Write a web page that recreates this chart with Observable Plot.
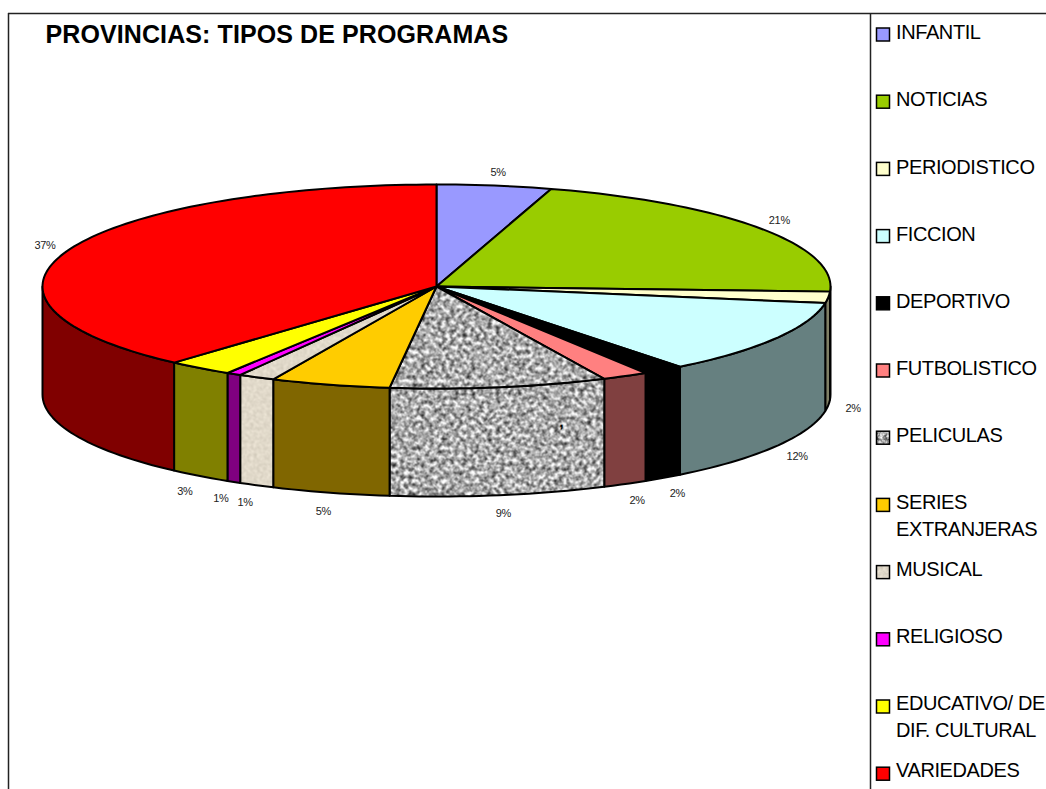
<!DOCTYPE html>
<html>
<head>
<meta charset="utf-8">
<script src="https://cdn.jsdelivr.net/npm/d3@7"></script>
<script src="https://cdn.jsdelivr.net/npm/@observablehq/plot@0.6"></script>
<style>
html,body{margin:0;padding:0;background:#fff;overflow:hidden}
</style>
</head>
<body>
<div id="chart"></div>
<script>
const categories = ["INFANTIL","NOTICIAS","PERIODISTICO","FICCION","DEPORTIVO","FUTBOLISTICO","PELICULAS","SERIES\nEXTRANJERAS","MUSICAL","RELIGIOSO","EDUCATIVO/ DE\nDIF. CULTURAL","VARIEDADES"];
const shares = [4.7,21.1,1.8,11.8,1.7,1.9,8.9,4.9,1.5,0.6,2.7,38.4];
const pctLabels = ["5%","21%","2%","12%","2%","2%","9%","5%","1%","1%","3%","37%"];
const topColors = ["#9999ff","#99cc00","#ffffcc","#ccffff","#000000","#ff8080","url(#granite)","#ffcc00","url(#sand)","#ff00ff","#ffff00","#ff0000"];
const sideColors = ["#4d4d80","#4d6600","#808066","#668080","#000000","#804040","url(#granite)","#806600","url(#sand)","#800080","#808000","#800000"];
const title = "PROVINCIAS: TIPOS DE PROGRAMAS";

// pie geometry in picture units
const W = 1046, H = 789;
const cx = 436, cy = 286, rx = 394, ry = 102, depth = 108;
const rad = d => d * Math.PI / 180;
const ex = a => cx + rx * Math.sin(rad(a));
const ey = a => cy - ry * Math.cos(rad(a));

const total = d3.sum(shares);
let acc = 0;
const slices = categories.map((name,i) => {
  const a0 = acc / total * 360; acc += shares[i]; const a1 = acc / total * 360;
  return {name, i, a0, a1, mid:(a0+a1)/2};
});
const arcAngles = (a0,a1) => { const n = Math.max(2,Math.ceil((a1-a0)/1.5)); return d3.range(n+1).map(k => a0+(a1-a0)*k/n); };

const topFace = s => [{x:cx,y:cy}, ...arcAngles(s.a0,s.a1).map(a => ({x:ex(a),y:ey(a)}))];
const sideFace = s => {
  const a0 = Math.max(s.a0,90), a1 = Math.min(s.a1,270);
  if (a1 <= a0) return null;
  const as = arcAngles(a0,a1);
  return [...as.map(a => ({x:ex(a),y:ey(a)})), ...as.slice().reverse().map(a => ({x:ex(a),y:ey(a)+depth}))];
};
const poly = (pts,fill) => Plot.line(pts,{x:"x",y:"y",fill,stroke:"#000",strokeWidth:2,curve:"linear-closed",strokeLinejoin:"round"});

const pctData = slices.map(s => {
  const c = Math.cos(rad(s.mid)), isBack = c > 0 || s.mid > 270;
  return {
    text: pctLabels[s.i],
    x: cx + 419 * Math.sin(rad(s.mid)),
    y: isBack ? cy - 115 * c : cy + depth + 1 - 120 * c
  };
});

const legend = slices.map(s => ({
  name:s.name, fill:topColors[s.i],
  swatchY: 34.5 + 67.2 * s.i,
  textY: 33 + 67.1 * s.i
}));

const spacing = ls => (index, scales, values, dimensions, context, next) => {
  const g = next(index, scales, values, dimensions, context);
  g.style.letterSpacing = ls;
  return g;
};

const defs = () => {
  const svgNS = "http://www.w3.org/2000/svg";
  const g = document.createElementNS(svgNS,"g");
  g.innerHTML = `<defs>
  <filter id="graniteF" x="0" y="0" width="100%" height="100%" color-interpolation-filters="sRGB">
    <feTurbulence type="fractalNoise" baseFrequency="0.24" numOctaves="4" seed="7"/>
    <feColorMatrix type="matrix" values="-1.5 0 0 0 1.42  -1.5 0 0 0 1.42  -1.5 0 0 0 1.42  0 0 0 0 1"/>
  </filter>
  <filter id="sandF" x="0" y="0" width="100%" height="100%" color-interpolation-filters="sRGB">
    <feTurbulence type="fractalNoise" baseFrequency="0.3" numOctaves="2" seed="3"/>
    <feColorMatrix type="matrix" values="0.16 0 0 0 0.80  0.16 0 0 0 0.77  0.16 0 0 0 0.71  0 0 0 0 1"/>
  </filter>
  <pattern id="granite" patternUnits="userSpaceOnUse" width="300" height="300"><rect width="300" height="300" filter="url(#graniteF)"/></pattern>
  <pattern id="sand" patternUnits="userSpaceOnUse" width="200" height="200"><rect width="200" height="200" filter="url(#sandF)"/></pattern>
  </defs>`;
  return g;
};

const plot = Plot.plot({
  width: W, height: H,
  margin: 0,
  x: {axis:null, domain:[0,W], range:[0,W]},
  y: {axis:null, domain:[0,H], range:[0,H]},
  color: {type:"identity"},
  style: {background:"#fff"},
  marks: [
    defs,
    Plot.ruleY([13],{x1:8,x2:W,stroke:"#222",strokeWidth:1.5}),
    Plot.ruleX([8],{y1:13,y2:H,stroke:"#222",strokeWidth:1.5}),
    Plot.ruleX([870],{y1:13,y2:H,stroke:"#222",strokeWidth:1.5}),
    ...slices.filter(sideFace).map(s => poly(sideFace(s),sideColors[s.i])),
    ...slices.map(s => poly(topFace(s),topColors[s.i])),
    Plot.text(pctData,{x:"x",y:"y",text:"text",fontFamily:"Liberation Sans",fontSize:11,fill:"#222",render:spacing("-0.3px")}),
    Plot.text([","],{x:[561],y:[422],fontFamily:"Liberation Sans",fontSize:14,fontWeight:"bold",fill:"#000"}),
    Plot.text([title],{x:[45],y:[34],textAnchor:"start",fontFamily:"Liberation Sans",fontWeight:"bold",fontSize:25,fill:"#000",render:spacing("0.1px")}),
    Plot.rect(legend,{x1:()=>876.5,x2:()=>889.5,y1:d=>d.swatchY-6.5,y2:d=>d.swatchY+6.5,fill:"fill",stroke:"#000",strokeWidth:1.5}),
    Plot.text(legend,{x:()=>895.5,y:d=>d.textY-13,text:"name",textAnchor:"start",lineAnchor:"top",lineHeight:1.33,fontFamily:"Liberation Sans",fontSize:20,fill:"#000",render:spacing("-0.4px")})
  ]
});
document.getElementById("chart").appendChild(plot);
</script>
</body>
</html>
